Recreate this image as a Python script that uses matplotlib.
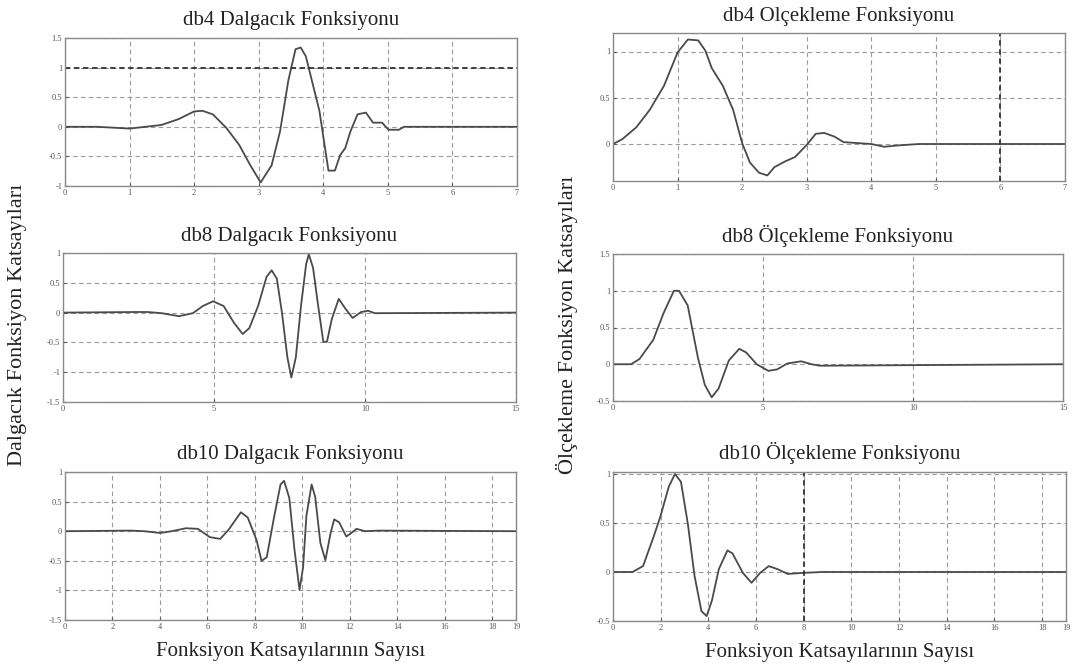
import matplotlib
matplotlib.use("Agg")
import matplotlib.pyplot as plt

plt.rcParams['font.family'] = ['Liberation Serif', 'DejaVu Serif']

# ---------------- data ----------------
db4_psi_x = [0, 0.5, 1.0, 1.49, 1.76, 2.0, 2.13, 2.29, 2.5, 2.7, 2.87, 3.03, 3.2, 3.33,
             3.46, 3.57, 3.65, 3.73, 3.86, 3.94, 4.02, 4.08, 4.18, 4.26, 4.34, 4.42,
             4.53, 4.66, 4.77, 4.91, 5.01, 5.17, 5.25, 7.0]
db4_psi_y = [0, 0, -0.03, 0.03, 0.13, 0.26, 0.27, 0.21, -0.02, -0.31, -0.65, -0.94, -0.65, -0.08,
             0.79, 1.31, 1.34, 1.19, 0.62, 0.27, -0.31, -0.74, -0.74, -0.48, -0.36, -0.08,
             0.21, 0.24, 0.07, 0.07, -0.05, -0.05, 0, 0]

db4_phi_x = [0, 0.14, 0.36, 0.57, 0.79, 1.0, 1.16, 1.32, 1.43, 1.53, 1.7, 1.86, 2.0, 2.12,
             2.26, 2.39, 2.5, 2.66, 2.82, 3.0, 3.14, 3.27, 3.43, 3.57, 4.0, 4.2, 4.42, 4.74, 7.0]
db4_phi_y = [0, 0.05, 0.18, 0.37, 0.63, 0.99, 1.13, 1.12, 1.01, 0.82, 0.63, 0.37, 0.01, -0.2,
             -0.31, -0.34, -0.25, -0.19, -0.14, -0.01, 0.11, 0.12, 0.08, 0.02, 0, -0.03, -0.015, 0, 0]

db8_psi_x = [0, 2.47, 2.8, 3.27, 3.84, 4.3, 4.63, 4.97, 5.32, 5.66, 5.95, 6.17, 6.46, 6.74,
             6.91, 7.08, 7.25, 7.43, 7.56, 7.71, 7.88, 8.05, 8.14, 8.28, 8.45, 8.62, 8.74,
             8.9, 9.13, 9.36, 9.59, 9.87, 10.1, 10.33, 15.0]
db8_psi_y = [0, 0.01, 0.01, -0.01, -0.06, -0.01, 0.11, 0.19, 0.11, -0.17, -0.36, -0.26, 0.11, 0.6,
             0.71, 0.57, 0, -0.75, -1.09, -0.75, 0.11, 0.81, 0.98, 0.75, 0.11, -0.49, -0.49,
             -0.11, 0.23, 0.06, -0.09, 0.01, 0.03, -0.01, 0]

db8_phi_x = [0, 0.6, 0.88, 1.34, 1.69, 2.03, 2.2, 2.49, 2.83, 3.06, 3.29, 3.52, 3.86, 4.21,
             4.44, 4.79, 5.18, 5.47, 5.81, 6.27, 6.62, 6.9, 15.0]
db8_phi_y = [0, 0, 0.07, 0.33, 0.7, 1.0, 1.0, 0.8, 0.09, -0.28, -0.45, -0.33, 0.05, 0.21,
             0.16, 0, -0.09, -0.07, 0.01, 0.04, 0, -0.02, 0]

db10_psi_x = [0, 2.76, 3.34, 4.0, 4.5, 5.09, 5.6, 6.1, 6.54, 6.9, 7.41, 7.7, 8.07, 8.28, 8.5,
              8.79, 9.08, 9.23, 9.45, 9.67, 9.88, 10.03, 10.17, 10.39, 10.54, 10.76, 10.97,
              11.19, 11.34, 11.55, 11.85, 12.06, 12.28, 12.64, 13.2, 19.0]
db10_psi_y = [0, 0.01, 0, -0.03, 0, 0.05, 0.04, -0.1, -0.13, 0.03, 0.32, 0.23, -0.15, -0.5, -0.44,
              0.2, 0.79, 0.85, 0.56, -0.32, -0.99, -0.61, 0.26, 0.79, 0.58, -0.2, -0.49,
              -0.03, 0.2, 0.15, -0.09, -0.03, 0.04, 0, 0.01, 0]

db10_phi_x = [0, 0.82, 1.26, 1.69, 1.98, 2.34, 2.6, 2.85, 3.14, 3.42, 3.71, 3.93, 4.15, 4.44,
              4.8, 5.01, 5.45, 5.81, 6.17, 6.53, 6.89, 7.33, 7.9, 8.77, 19.0]
db10_phi_y = [0, 0, 0.06, 0.35, 0.56, 0.87, 1.0, 0.92, 0.49, -0.04, -0.4, -0.45, -0.29, 0.03,
              0.22, 0.19, -0.01, -0.11, -0.01, 0.06, 0.03, -0.02, -0.01, 0, 0]

titles = ["db4 Dalgacık Fonksiyonu", "db4 Olçekleme Fonksiyonu",
          "db8 Dalgacık Fonksiyonu", "db8 Ölçekleme Fonksiyonu",
          "db10 Dalgacık Fonksiyonu", "db10 Ölçekleme Fonksiyonu"]

x_lims = [(0, 7), (0, 7), (0, 15), (0, 15), (0, 19), (0, 19)]
y_lims = [(-1, 1.5), (-0.4, 1.2), (-1.5, 1), (-0.5, 1.5), (-1.5, 1), (-0.5, 1.02)]
x_ticks = [list(range(8)), list(range(8)), [0, 5, 10, 15], [0, 5, 10, 15],
           [0, 2, 4, 6, 8, 10, 12, 14, 16, 18, 19], [0, 2, 4, 6, 8, 10, 12, 14, 16, 18, 19]]
y_ticks = [[-1, -0.5, 0, 0.5, 1, 1.5], [0, 0.5, 1], [-1.5, -1, -0.5, 0, 0.5, 1],
           [-0.5, 0, 0.5, 1, 1.5], [-1.5, -1, -0.5, 0, 0.5, 1], [-0.5, 0, 0.5, 1]]
# darker grid lines seen in the scan: (axis, value)
dark_lines = [('h', 1), ('v', 6), ('h', 1), None, None, ('v', 8)]

series = [(db4_psi_x, db4_psi_y), (db4_phi_x, db4_phi_y),
          (db8_psi_x, db8_psi_y), (db8_phi_x, db8_phi_y),
          (db10_psi_x, db10_psi_y), (db10_phi_x, db10_phi_y)]

# ---------------- figure ----------------
W, H = 1081, 666
fig = plt.figure(figsize=(W / 100, H / 100), dpi=100)

# axes boxes in pixels: left, top, right, bottom
boxes = [(65, 38, 517, 186), (613, 33, 1065, 181),
         (63, 253, 516, 402), (613, 254, 1063, 401),
         (65, 472, 516, 620), (613, 472, 1066, 621)]

line_col = '#4a4a4a'
grid_col = '#9a9a9a'

for i, (l, t, r, b) in enumerate(boxes):
    ax = fig.add_axes([l / W, 1 - b / H, (r - l) / W, (b - t) / H])
    x, y = series[i]
    ax.plot(x, y, color=line_col, linewidth=1.3)
    ax.set_xlim(*x_lims[i])
    ax.set_ylim(*y_lims[i])
    ax.set_xticks(x_ticks[i])
    ax.set_xticklabels([str(v) for v in x_ticks[i]])
    ax.set_yticks(y_ticks[i])
    ax.set_yticklabels([('%g' % v) for v in y_ticks[i]])
    ax.tick_params(direction='in', length=2, labelsize=6, colors='#555555', pad=2)
    ax.grid(True, linestyle=(0, (4, 3)), color=grid_col, linewidth=0.8)
    if dark_lines[i] is not None:
        kind, val = dark_lines[i]
        if kind == 'h':
            ax.axhline(val, color='#333333', linestyle=(0, (3, 2)), linewidth=1.3)
        else:
            ax.axvline(val, color='#333333', linestyle=(0, (3, 2)), linewidth=1.3)
    for s in ax.spines.values():
        s.set_color('#8a8a8a')
        s.set_linewidth(1.0)
    ax.set_title(titles[i], fontsize=15, pad=9, color='#222222')
    if i >= 4:
        ax.set_xlabel("Fonksiyon Katsayılarının Sayısı", fontsize=15, color='#222222', labelpad=8)

fig.text(18 / W, 1 - 325 / H, "Dalgacık Fonksiyon Katsayıları", rotation=90,
         ha='center', va='center', fontsize=16, color='#222222')
fig.text(567 / W, 1 - 325 / H, "Ölçekleme Fonksiyon Katsayıları", rotation=90,
         ha='center', va='center', fontsize=16, color='#222222')

fig.savefig("out.png", dpi=100)
